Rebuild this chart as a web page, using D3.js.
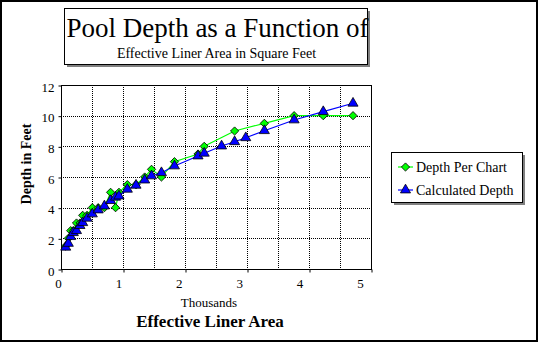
<!DOCTYPE html>
<html>
<head>
<meta charset="utf-8">
<script src="https://cdn.jsdelivr.net/npm/d3@7/dist/d3.min.js"></script>
<style>
  body { margin: 0; background: #fff; }
  svg { display: block; }
</style>
</head>
<body>
<svg id="chart" width="538" height="342"></svg>
<script>
// Calculated depth, by effective liner area (square feet)
const calcArea  = [76, 118, 156, 199, 250, 306, 350, 420, 505, 600, 700, 800, 880, 935,
                   1070, 1210, 1350, 1460, 1620, 1830, 2210, 2310, 2590, 2800, 2980,
                   3280, 3760, 4230, 4710];
const calcDepth = [1.42, 1.67, 2.11, 2.37, 2.5, 2.83, 3.02, 3.31, 3.59, 3.85, 4.11, 4.46,
                   4.68, 4.76, 5.2, 5.46, 5.8, 6.07, 6.28, 6.72, 7.37, 7.55, 8.02, 8.3,
                   8.56, 9.02, 9.72, 10.26, 10.81];

// Depth as listed on the manufacturer's chart
const chartArea  = [76, 118, 156, 199, 250, 306, 350, 420, 505, 600, 700, 800, 880, 935,
                    1070, 1210, 1350, 1460, 1620, 1830, 2210, 2310, 2800, 3280, 3760,
                    4230, 4710];
const chartDepth = [1.5, 2, 2.5, 2.5, 3, 3, 3.5, 3.5, 4, 4, 4, 5, 4, 5, 5.5, 5.5, 6, 6.5,
                    6, 7, 7.5, 8, 9, 9.5, 10, 10, 10];

const xTicks = [0, 1000, 2000, 3000, 4000, 5000];
const yTicks = [0, 2, 4, 6, 8, 10, 12];
const xGrid  = [500, 1000, 1500, 2000, 2500, 3000, 3500, 4000, 4500];
const yGrid  = [2, 4, 6, 8, 10];

const titleText    = "Pool Depth as a Function of";
const subtitleText = "Effective Liner Area in Square Feet";
const xUnitText    = "Thousands";
const xAxisText    = "Effective Liner Area";
const yAxisText    = "Depth in Feet";
const seriesNames  = ["Depth Per Chart", "Calculated Depth"];

const GREEN = "#00ff00", BLUE = "#0000ff", SHADOW = "#808080";
const SERIF = "'Liberation Serif', 'Times New Roman', serif";

const svg = d3.select("#chart");
const W = 538, H = 342;
const plot = { left: 61, right: 371, top: 85, bottom: 269 };

const x  = d3.scaleLinear().domain([0, 5000]).range([plot.left, plot.right]);
const xl = d3.scaleLinear().domain([0, 5000]).range([58, 360]); // tick label placement
const y  = d3.scaleLinear().domain([0, 12]).range([plot.bottom, plot.top]);
const crisp = v => Math.round(v) + 0.5;

function label(sel, size, weight) {
  return sel.attr("font-family", SERIF).attr("font-size", size)
    .attr("font-weight", weight || "normal").attr("fill", "#000");
}

// background + outer frame
svg.append("rect").attr("width", W).attr("height", H).attr("fill", "#fff");
svg.append("rect").attr("x", 1).attr("y", 1).attr("width", W - 2).attr("height", H - 2)
  .attr("fill", "none").attr("stroke", "#000").attr("stroke-width", 2);

// title box with drop shadow
const tb = { x: 64, y: 8, w: 303, h: 56 };
svg.append("rect").attr("x", tb.x + 3).attr("y", tb.y + 3).attr("width", tb.w).attr("height", tb.h)
  .attr("fill", SHADOW);
svg.append("rect").attr("x", tb.x + 0.5).attr("y", tb.y + 0.5).attr("width", tb.w).attr("height", tb.h)
  .attr("fill", "#fff").attr("stroke", "#000");
label(svg.append("text"), 27).attr("x", tb.x + tb.w / 2 + 2).attr("y", 37)
  .attr("text-anchor", "middle").text(titleText);
label(svg.append("text"), 14).attr("x", tb.x + tb.w / 2 + 1).attr("y", 58)
  .attr("text-anchor", "middle").text(subtitleText);

// gridlines
const grid = svg.append("g").attr("stroke", "#000").attr("stroke-dasharray", "1,1").attr("stroke-width", 1);
grid.selectAll("line.v").data(xGrid).join("line").attr("class", "v")
  .attr("x1", d => crisp(x(d))).attr("x2", d => crisp(x(d)))
  .attr("y1", plot.top).attr("y2", plot.bottom);
grid.selectAll("line.h").data(yGrid).join("line").attr("class", "h")
  .attr("x1", plot.left).attr("x2", plot.right)
  .attr("y1", d => crisp(y(d))).attr("y2", d => crisp(y(d)));

// plot frame
svg.append("rect").attr("x", plot.left + 0.5).attr("y", plot.top + 0.5)
  .attr("width", plot.right - plot.left).attr("height", plot.bottom - plot.top)
  .attr("fill", "none").attr("stroke", "#000");

// y axis ticks and labels
const yAxis = d3.axisLeft(y).tickValues(yTicks).tickSize(3).tickPadding(4).tickFormat(d3.format("d"));
const gy = svg.append("g").attr("transform", `translate(${plot.left + 0.5},0.5)`).call(yAxis);
gy.select(".domain").remove();
label(gy.selectAll("text"), 13).attr("dy", "0.36em").attr("y", 1);

// x axis tick marks on the frame
const xAxisMarks = d3.axisBottom(x).tickValues(xTicks).tickSize(3).tickFormat("");
const gx = svg.append("g").attr("transform", `translate(0.5,${plot.bottom + 0.5})`).call(xAxisMarks);
gx.select(".domain").remove();
// x tick labels
const xLabels = d3.axisBottom(xl).tickValues(xTicks).tickSize(0).tickPadding(0).tickFormat(d => d / 1000);
const gxl = svg.append("g").attr("transform", `translate(0,279)`).call(xLabels);
gxl.select(".domain").remove();
label(gxl.selectAll("text"), 13);

// axis titles
label(svg.append("text"), 13).attr("x", 209).attr("y", 307).attr("text-anchor", "middle").text(xUnitText);
label(svg.append("text"), 17, "bold").attr("x", 210).attr("y", 327).attr("text-anchor", "middle").text(xAxisText);
label(svg.append("text"), 14, "bold").attr("transform", "translate(31,164) rotate(-90)")
  .attr("text-anchor", "middle").text(yAxisText);

// series
const diamond  = d3.symbol().type(d3.symbolSquare).size(34)();
const triangle = d3.symbol().type(d3.symbolTriangle).size(44)();

const chartPts = chartArea.map((a, i) => [a, chartDepth[i]]);
const calcPts  = calcArea.map((a, i) => [a, calcDepth[i]]);
const line = d3.line().x(d => x(d[0])).y(d => y(d[1]));

svg.append("path").datum(chartPts).attr("d", line).attr("fill", "none")
  .attr("stroke", GREEN).attr("stroke-width", 1.2);
svg.append("g").selectAll("path").data(chartPts).join("path")
  .attr("transform", d => `translate(${x(d[0])},${y(d[1])}) rotate(45)`)
  .attr("d", diamond).attr("fill", GREEN).attr("stroke", "#000").attr("stroke-width", 0.8);

svg.append("path").datum(calcPts).attr("d", line).attr("fill", "none")
  .attr("stroke", BLUE).attr("stroke-width", 1.2);
svg.append("g").selectAll("path").data(calcPts).join("path")
  .attr("transform", d => `translate(${x(d[0])},${y(d[1])})`)
  .attr("d", triangle).attr("fill", BLUE).attr("stroke", "#000").attr("stroke-width", 0.8);

// legend
const lg = { x: 391, y: 152, w: 131, h: 50 };
svg.append("rect").attr("x", lg.x + 3).attr("y", lg.y + 3).attr("width", lg.w).attr("height", lg.h)
  .attr("fill", SHADOW);
svg.append("rect").attr("x", lg.x + 0.5).attr("y", lg.y + 0.5).attr("width", lg.w).attr("height", lg.h)
  .attr("fill", "#fff").attr("stroke", "#000");
const legendRows = [
  { name: seriesNames[0], color: GREEN, shape: diamond, rot: 45, cy: 167 },
  { name: seriesNames[1], color: BLUE, shape: triangle, rot: 0, cy: 190 }
];
const lrow = svg.append("g").selectAll("g").data(legendRows).join("g");
lrow.append("line").attr("x1", 398).attr("x2", 413).attr("y1", d => d.cy).attr("y2", d => d.cy)
  .attr("stroke", d => d.color).attr("stroke-width", 1.2);
lrow.append("path").attr("transform", d => `translate(405.5,${d.cy}) rotate(${d.rot})`)
  .attr("d", d => d.shape).attr("fill", d => d.color).attr("stroke", "#000").attr("stroke-width", 0.8);
label(lrow.append("text"), 14).attr("x", 416).attr("y", d => d.cy + 5).text(d => d.name);
</script>
</body>
</html>
